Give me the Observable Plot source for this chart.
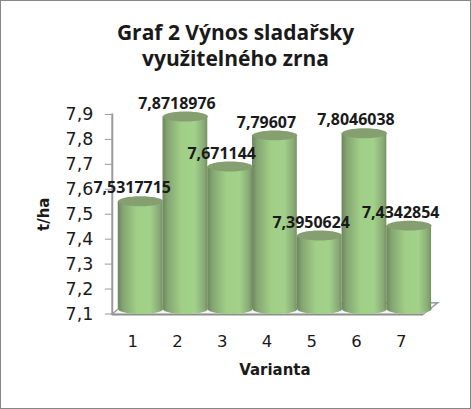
<!DOCTYPE html>
<html><head><meta charset="utf-8">
<script src="https://cdn.jsdelivr.net/npm/d3@7"></script>
<script src="https://cdn.jsdelivr.net/npm/@observablehq/plot@0.6"></script>
<style>
html,body{margin:0;padding:0;background:#fff}
#box{position:relative;width:471px;height:409px;box-sizing:border-box;border:1px solid #868686;overflow:hidden;background:#fff}
#title{position:absolute;left:0;top:18px;width:469px;text-align:center;font:bold 21px/26px "Open Sans",sans-serif;color:#1a1a1a}
#chart{position:absolute;left:-1px;top:84px}
svg{display:block;overflow:visible}
</style></head><body>
<div id="box"><div id="title">Graf 2 Výnos sladařsky<br>využitelného zrna</div><div id="chart"></div></div>
<script>
const variants = ["1","2","3","4","5","6","7"];
const yields = [7.5317715,7.8718976,7.671144,7.79607,7.3950624,7.8046038,7.4342854];
const labels = ["7,5317715","7,8718976","7,671144","7,79607","7,3950624","7,8046038","7,4342854"];
const yTicks = [7.1,7.2,7.3,7.4,7.5,7.6,7.7,7.8,7.9];
const rows = variants.map((v,i)=>({v,y:yields[i],t:labels[i]}));
const lift = -5;
const ellipse = {draw(c,size){
  const rx=Math.sqrt(size/Math.PI), ry=5, k=0.5523;
  c.moveTo(-rx,0);
  c.bezierCurveTo(-rx,-ry*k,-rx*k,-ry,0,-ry);
  c.bezierCurveTo(rx*k,-ry,rx,-ry*k,rx,0);
  c.bezierCurveTo(rx,ry*k,rx*k,ry,0,ry);
  c.bezierCurveTo(-rx*k,ry,-rx,ry*k,-rx,0);
  c.closePath();
}};
const defs = () => {
  const d = d3.create("svg:defs");
  const g = d.append("linearGradient").attr("id","cyl");
  [[0,"#6d8560"],[0.12,"#85a672"],[0.42,"#a0cf87"],[0.72,"#a2d18a"],[0.93,"#88a976"],[1,"#76905f"]]
    .forEach(([o,c])=>g.append("stop").attr("offset",o).attr("stop-color",c));
  return d.node();
};
const floor = (i,s,v,dims) => {
  const d=d3.create("svg:g");
  const b=dims.height-dims.marginBottom, l=dims.marginLeft, r=dims.width-dims.marginRight;
  d.append("polygon").attr("points",[[l-6,b+1],[l+3,b-7],[r+7,b-11],[r-8,b+1]].join(" "))
   .attr("fill","#f4f4f4").attr("stroke","#8f9a94").attr("stroke-width",1.2);
  d.append("line").attr("x1",l-6).attr("x2",r-8).attr("y1",b+1).attr("y2",b+1)
   .attr("stroke","#8a8f8b").attr("stroke-width",2);
  return d.node();
};
const chart = Plot.plot({
  width:471, height:325, marginTop:29, marginBottom:96, marginLeft:118, marginRight:39,
  style:{background:"transparent",fontFamily:'"DejaVu Sans",sans-serif',color:"#1a1a1a"},
  x:{domain:variants,padding:0,round:false},
  y:{domain:[7.1,7.9]},
  marks:[
    defs,
    floor,
    Plot.frame({anchor:"left",dx:-6,stroke:"#9a9a9a",strokeWidth:2}),
    Plot.axisY({ticks:yTicks,tickFormat:d=>d.toFixed(1).replace(".",","),dx:-6,tickSize:7,tickPadding:12,
      fontSize:17.5,stroke:"#9a9a9a",label:"t/ha",labelAnchor:"center",labelOffset:80,labelArrow:"none"}),
    Plot.axisX({dx:-8,tickSize:0,tickPadding:21,fontSize:16.5,label:"Varianta",labelAnchor:"center",labelOffset:61,labelArrow:"none"}),
    Plot.dot(rows,{x:"v",y:()=>7.1,r:22.5,symbol:ellipse,fill:"url(#cyl)",dy:lift}),
    Plot.barY(rows,{x:"v",y1:()=>7.1,y2:"y",fill:"url(#cyl)",dy:lift}),
    Plot.dot(rows,{x:"v",y:"y",r:22.5,symbol:ellipse,fill:"#859f70",dy:lift}),
    Plot.text(rows,{x:"v",y:"y",text:"t",dx:-8.5,dy:-18,fontFamily:"Open Sans",fontWeight:"bold",fontSize:16,fill:"#1a1a1a"})
  ]
});
chart.querySelectorAll('[aria-label="y-axis label"] text, [aria-label="x-axis label"] text').forEach(t=>{t.setAttribute("font-weight","bold");t.setAttribute("font-size","15");});
document.getElementById("chart").append(chart);
</script></body></html>
